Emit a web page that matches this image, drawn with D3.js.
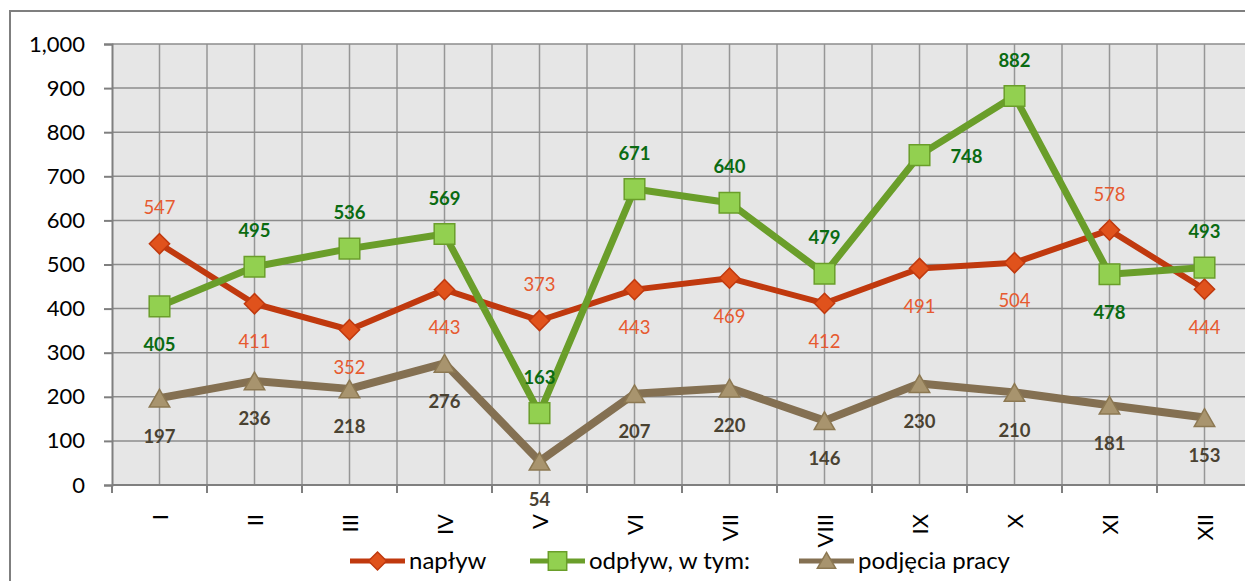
<!DOCTYPE html>
<html>
<head>
<meta charset="utf-8">
<script src="https://cdn.jsdelivr.net/npm/d3@7"></script>
<style>
  body { margin: 0; background: #fff; }
  svg { display: block; font-family: Lato, "Open Sans", sans-serif; }
</style>
</head>
<body>
<svg id="chart" width="1245" height="581"></svg>
<script>
const months = ["I", "II", "III", "IV", "V", "VI", "VII", "VIII", "IX", "X", "XI", "XII"]
const naplyw = [547, 411, 352, 443, 373, 443, 469, 412, 491, 504, 578, 444]
const odplyw = [405, 495, 536, 569, 163, 671, 640, 479, 748, 882, 478, 493]
const podjecia = [197, 236, 218, 276, 54, 207, 220, 146, 230, 210, 181, 153]
const yTicks = [0, 100, 200, 300, 400, 500, 600, 700, 800, 900, 1000]
const seriesNames = ["napływ", "odpływ, w tym:", "podjęcia pracy"]

// where each data label sits relative to its point
const naplywLabelPos = ["above", "below", "below", "below", "above", "below", "below", "below", "below", "below", "above", "below"]
const odplywLabelPos = ["below", "above", "above", "above", "above", "above", "above", "above", "right", "above", "below", "above"]
const podjeciaLabelPos = months.map(() => "below")

const svg = d3.select("#chart")

const plotLeft = 112, plotTop = 44, plotBottom = 485, step = 95
const plotRight = plotLeft + step * months.length

const x = d3.scaleBand()
    .domain(months)
    .range([plotLeft, plotRight])
    .paddingInner(0).paddingOuter(0)
const cx = d => x(d) + x.bandwidth() / 2

const y = d3.scaleLinear()
    .domain([0, 1000])
    .range([plotBottom, plotTop])

// outer frame
svg.append("path")
    .attr("d", `M10,581 L10,11 L1245,11`)
    .attr("fill", "none")
    .attr("stroke", "#7f7f7f")
    .attr("stroke-width", 2)

// plot background
svg.append("rect")
    .attr("x", plotLeft).attr("y", plotTop)
    .attr("width", plotRight - plotLeft).attr("height", plotBottom - plotTop)
    .attr("fill", "#e6e6e6")

// vertical gridlines at band edges and centres
const vLines = []
months.forEach(m => { vLines.push(x(m)); vLines.push(cx(m)) })
vLines.push(plotRight)
svg.append("g").selectAll("line")
    .data(vLines.slice(1))
    .join("line")
        .attr("x1", d => d).attr("x2", d => d)
        .attr("y1", plotTop).attr("y2", plotBottom)
        .attr("stroke", "#969696")
        .attr("stroke-width", 1.5)

// horizontal gridlines
svg.append("g").selectAll("line")
    .data(yTicks.slice(1))
    .join("line")
        .attr("x1", plotLeft).attr("x2", plotRight)
        .attr("y1", d => y(d)).attr("y2", d => y(d))
        .attr("stroke", "#8c8c8c")
        .attr("stroke-width", 1.5)

// y axis
const yAxis = svg.append("g")
    .attr("transform", `translate(${plotLeft},0)`)
    .call(d3.axisLeft(y).tickValues(yTicks).tickFormat(d3.format(",")).tickSize(8).tickPadding(19))
yAxis.select(".domain").attr("stroke", "#7f7f7f").attr("stroke-width", 2)
yAxis.selectAll(".tick line").attr("stroke", "#7f7f7f").attr("stroke-width", 2)
yAxis.selectAll(".tick text")
    .attr("font-family", "Lato, sans-serif")
    .attr("font-size", 22)
    .attr("fill", "#000")

// x axis line and boundary ticks
svg.append("line")
    .attr("x1", plotLeft).attr("x2", plotRight)
    .attr("y1", plotBottom).attr("y2", plotBottom)
    .attr("stroke", "#7f7f7f").attr("stroke-width", 2)
svg.append("g").selectAll("line")
    .data(months.map(m => x(m)).concat([plotRight]))
    .join("line")
        .attr("x1", d => d).attr("x2", d => d)
        .attr("y1", plotBottom).attr("y2", plotBottom + 8)
        .attr("stroke", "#7f7f7f").attr("stroke-width", 2)

// rotated month labels
svg.append("g").selectAll("text")
    .data(months)
    .join("text")
        .attr("transform", d => `translate(${cx(d) + 8},514) rotate(-90)`)
        .attr("text-anchor", "end")
        .attr("font-size", 22)
        .attr("fill", "#000")
        .text(d => d)

const series = [
    { name: seriesNames[0], values: naplyw, pos: naplywLabelPos, line: "#c0390e", width: 6,
      fill: "#e0521c", stroke: "#c0390e", symbol: d3.symbolDiamond2, size: 260,
      label: "#e65a30", weight: "normal" },
    { name: seriesNames[1], values: odplyw, pos: odplywLabelPos, line: "#6a9e2a", width: 7,
      fill: "#92d050", stroke: "#6a9e2a", symbol: d3.symbolSquare2, size: 540,
      label: "#0a6b12", weight: "bold" },
    { name: seriesNames[2], values: podjecia, pos: podjeciaLabelPos, line: "#847052", width: 8,
      fill: "#a8946e", stroke: "#8c7852", symbol: d3.symbolTriangle2, size: 300,
      label: "#4a4232", weight: "bold" }
]

const line = d3.line()
    .x((d, i) => cx(months[i]))
    .y(d => y(d))

series.forEach(s => {
    svg.append("path")
        .attr("d", line(s.values))
        .attr("fill", "none")
        .attr("stroke", s.line)
        .attr("stroke-width", s.width)
        .attr("stroke-linejoin", "round")

    svg.append("g").selectAll("path")
        .data(s.values)
        .join("path")
            .attr("transform", (d, i) => `translate(${cx(months[i])},${y(d) + (s.symbol === d3.symbolTriangle2 ? 3 : 0)})`)
            .attr("d", d3.symbol().type(s.symbol).size(s.size))
            .attr("fill", s.fill)
            .attr("stroke", s.stroke)
            .attr("stroke-width", 1.5)
})

series.forEach(s => {
    svg.append("g").selectAll("text")
        .data(s.values)
        .join("text")
            .attr("x", (d, i) => cx(months[i]) + (s.pos[i] === "right" ? 47 : 0))
            .attr("y", (d, i) => y(d) + (s.pos[i] === "above" ? -36 : s.pos[i] === "below" ? 38 : 1))
            .attr("dy", "0.35em")
            .attr("text-anchor", "middle")
            .attr("font-size", 18.5)
            .attr("font-weight", s.weight)
            .attr("fill", s.label)
            .text(d => d)
})

// legend
const legendX = [350, 530, 799]
const legend = svg.append("g").selectAll("g")
    .data(series)
    .join("g")
        .attr("transform", (d, i) => `translate(${legendX[i]},561)`)
legend.append("line")
    .attr("x1", 0).attr("x2", 55)
    .attr("stroke", d => d.line)
    .attr("stroke-width", 5)
legend.append("path")
    .attr("transform", d => `translate(27.5,${d.symbol === d3.symbolTriangle2 ? 2 : 0})`)
    .attr("d", d => d3.symbol().type(d.symbol).size(d.size * 0.8)())
    .attr("fill", d => d.fill)
    .attr("stroke", d => d.stroke)
    .attr("stroke-width", 1.5)
legend.append("text")
    .attr("x", 59)
    .attr("dy", "0.35em")
    .attr("font-size", 24)
    .attr("fill", "#000")
    .text(d => d.name)
</script>
</body>
</html>
